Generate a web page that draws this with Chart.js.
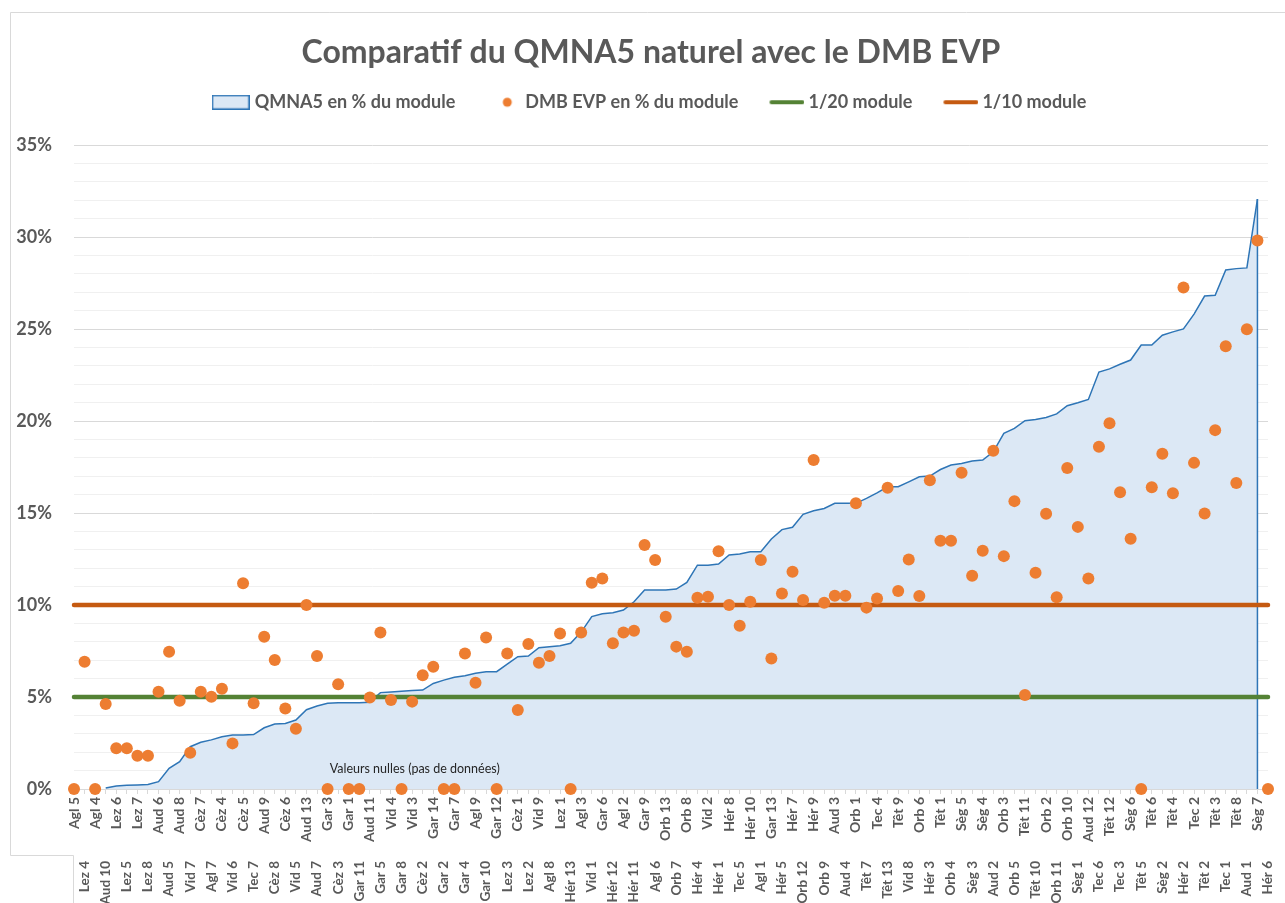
<!DOCTYPE html>
<html>
<head>
<meta charset="utf-8">
<script src="https://cdn.jsdelivr.net/npm/chart.js"></script>
<style>
  html, body { margin: 0; padding: 0; background: #fff; }
  canvas { display: block; }
</style>
</head>
<body>
<canvas id="chart" width="1285" height="903"></canvas>
<script>
// stations, sorted by QMNA5 (module %)
const categories = [
  'Agl 5','Lez 4','Agl 4','Aud 10','Lez 6','Lez 5','Lez 7','Lez 8','Aud 6','Aud 5',
  'Aud 8','Vid 7','Cèz 7','Agl 7','Cèz 4','Vid 6','Cèz 5','Tec 7','Aud 9','Cèz 8',
  'Cèz 6','Vid 5','Aud 13','Aud 7','Gar 3','Cèz 3','Gar 1','Gar 11','Aud 11','Gar 5',
  'Vid 4','Gar 8','Vid 3','Cèz 2','Gar 14','Gar 2','Gar 7','Gar 4','Agl 9','Gar 10',
  'Gar 12','Lez 3','Cèz 1','Lez 2','Vid 9','Agl 8','Lez 1','Hér 13','Agl 3','Vid 1',
  'Gar 6','Hér 12','Agl 2','Hér 11','Gar 9','Agl 6','Orb 13','Orb 7','Orb 8','Hér 4',
  'Vid 2','Hér 1','Hér 8','Tec 5','Hér 10','Agl 1','Gar 13','Hér 5','Hér 7','Orb 12',
  'Hér 9','Orb 9','Aud 3','Aud 4','Orb 1','Têt 7','Tec 4','Têt 13','Têt 9','Vid 8',
  'Orb 6','Hér 3','Têt 1','Orb 4','Sèg 5','Sèg 3','Sèg 4','Aud 2','Orb 3','Orb 5',
  'Têt 11','Têt 10','Orb 2','Orb 11','Orb 10','Sèg 1','Aud 12','Tec 6','Têt 12','Tec 3',
  'Sèg 6','Têt 5','Têt 6','Sèg 2','Têt 4','Hér 2','Tec 2','Têt 2','Têt 3','Tec 1',
  'Têt 8','Aud 1','Sèg 7','Hér 6'
];

// QMNA5 naturel en % du module
const qmna5 = [
  null, null, null, 0.05, 0.16, 0.2, 0.22, 0.24, 0.4, 1.12,
  1.49, 2.3, 2.54, 2.67, 2.84, 2.93, 2.94, 2.96, 3.33, 3.53,
  3.56, 3.75, 4.31, 4.51, 4.66, 4.69, 4.69, 4.69, 4.72, 5.24,
  5.27, 5.31, 5.35, 5.38, 5.74, 5.92, 6.07, 6.16, 6.29, 6.38,
  6.38, 6.79, 7.19, 7.23, 7.68, 7.73, 7.79, 7.92, 8.53, 9.37,
  9.53, 9.58, 9.73, 10.18, 10.82, 10.82, 10.82, 10.87, 11.23, 12.17,
  12.17, 12.23, 12.72, 12.77, 12.9, 12.9, 13.59, 14.1, 14.23, 14.93,
  15.13, 15.25, 15.53, 15.53, 15.53, 15.8, 16.1, 16.43, 16.43, 16.7,
  16.97, 17.01, 17.37, 17.61, 17.7, 17.83, 17.88, 18.33, 19.33, 19.6,
  20.02, 20.09, 20.2, 20.39, 20.84, 21.0, 21.18, 22.67, 22.84, 23.09,
  23.32, 24.14, 24.14, 24.67, 24.85, 25.01, 25.82, 26.8, 26.84, 28.22,
  28.29, 28.33, 32.07, null
];

// DMB EVP en % du module (0 = pas de données)
const dmbEvp = [
  0, 6.92, 0, 4.62, 2.21, 2.21, 1.81, 1.81, 5.29, 7.46,
  4.8, 1.97, 5.29, 5.02, 5.45, 2.48, 11.18, 4.66, 8.28, 7.01,
  4.38, 3.28, 10.0, 7.23, 0, 5.69, 0, 0, 4.98, 8.51,
  4.84, 0, 4.75, 6.18, 6.65, 0, 0, 7.37, 5.78, 8.24,
  0, 7.37, 4.29, 7.88, 6.86, 7.23, 8.46, 0, 8.51, 11.21,
  11.45, 7.92, 8.51, 8.6, 13.26, 12.45, 9.37, 7.74, 7.46, 10.4,
  10.45, 12.93, 10.0, 8.88, 10.18, 12.45, 7.1, 10.63, 11.81, 10.27,
  17.88, 10.13, 10.51, 10.51, 15.53, 9.86, 10.36, 16.38, 10.76, 12.48,
  10.49, 16.79, 13.5, 13.5, 17.19, 11.59, 12.95, 18.39, 12.66, 15.65,
  5.11, 11.75, 14.96, 10.42, 17.45, 14.25, 11.45, 18.6, 19.88, 16.13,
  13.6, 0, 16.4, 18.23, 16.08, 27.26, 17.73, 14.98, 19.51, 24.07,
  16.63, 24.99, 29.82, 0
];

// reference thresholds (% du module)
const seuil20 = 5;
const seuil10 = 10;

const yMax = 35;
const yLabelStep = 5;   // labelled ticks, minor grid every 1%

const noteText = 'Valeurs nulles (pas de données)';
const noteAt = { x: 24.2, y: 1.1 };

const grey = '#595959';
const blue = '#2e75b6', blueFill = '#dce8f5';
const dotColor = '#ed7d31', green = '#548235', rust = '#c55a11';
const fontFamily = 'Lato, "Open Sans", sans-serif';

Chart.defaults.font.family = fontFamily;

// little canvases used as legend symbols
function symbol(w, h, draw) {
  const cv = document.createElement('canvas');
  cv.width = w; cv.height = h;
  draw(cv.getContext('2d'));
  return cv;
}
const symArea = symbol(38, 15, g => {
  g.fillStyle = blueFill; g.fillRect(1, 1, 36, 13);
  g.strokeStyle = blue; g.lineWidth = 1.5; g.strokeRect(0.75, 0.75, 36.5, 13.5);
});
const symDot = symbol(30, 12, g => {
  g.fillStyle = dotColor; g.beginPath(); g.arc(21, 6, 4.5, 0, Math.PI * 2); g.fill();
});
const symLine = col => symbol(40, 6, g => {
  g.strokeStyle = col; g.lineWidth = 4; g.lineCap = 'round';
  g.beginPath(); g.moveTo(7, 3); g.lineTo(38, 3); g.stroke();
});
const legendSymbols = [symArea, symDot, symLine(green), symLine(rust)];

const lastQ = qmna5.reduce((acc, v, i) => (v !== null ? i : acc), -1);

const decor = {
  id: 'decor',
  beforeDraw(chart) {
    const c = chart.ctx;
    c.save();
    c.fillStyle = '#fff';
    c.fillRect(0, 0, chart.width, chart.height);
    c.strokeStyle = '#d9d9d9';
    c.lineWidth = 1;
    c.beginPath();
    c.moveTo(chart.width, 12.5);
    c.lineTo(10.5, 12.5);
    c.lineTo(10.5, 855.5);
    c.lineTo(73.5, 855.5);
    c.lineTo(73.5, chart.height);
    c.stroke();
    c.restore();
  },
  afterDatasetDraw(chart, args) {
    if (args.index !== 0) return;
    // Excel closes the area with a vertical drop on the last value
    const pt = args.meta.data[lastQ];
    const y0 = chart.scales.y.getPixelForValue(0);
    const c = chart.ctx;
    c.save();
    c.strokeStyle = blue;
    c.lineWidth = 1.5;
    c.beginPath();
    c.moveTo(pt.x, pt.y);
    c.lineTo(pt.x, y0);
    c.stroke();
    c.restore();
  },
  afterDatasetsDraw(chart) {
    const c = chart.ctx;
    c.save();
    c.font = '12.5px ' + fontFamily;
    c.fillStyle = '#262626';
    c.textAlign = 'left';
    c.textBaseline = 'middle';
    c.fillText(noteText, chart.scales.x.getPixelForValue(noteAt.x), chart.scales.y.getPixelForValue(noteAt.y));
    c.restore();
  },
  afterDraw(chart) {
    // y labels, right aligned left of the plot (drawn here so they are not clipped to the narrow axis box)
    const ys = chart.scales.y;
    const c = chart.ctx;
    c.save();
    c.font = 'bold 18px ' + fontFamily;
    c.fillStyle = grey;
    c.textAlign = 'right';
    c.textBaseline = 'middle';
    ys.ticks.forEach(t => {
      if (t.value % yLabelStep === 0) c.fillText(t.value + '%', ys.right - 22, ys.getPixelForValue(t.value));
    });
    c.restore();
  }
};

const lastCat = categories[categories.length - 1];
const noSidePadding = s => { s.paddingLeft = 0; s.paddingRight = 0; };

new Chart(document.getElementById('chart'), {
  type: 'line',
  data: {
    labels: categories,
    datasets: [
      {
        label: 'QMNA5 en % du module',
        data: qmna5,
        borderColor: blue,
        backgroundColor: blueFill,
        borderWidth: 1.5,
        fill: 'origin',
        pointRadius: 0,
        tension: 0,
        order: 3
      },
      {
        label: 'DMB EVP en % du module',
        data: dmbEvp,
        showLine: false,
        pointRadius: 6,
        pointHoverRadius: 6,
        pointBorderWidth: 0,
        pointBackgroundColor: dotColor,
        pointBorderColor: dotColor,
        backgroundColor: dotColor,
        clip: false,
        order: 0
      },
      {
        label: '1/20 module',
        data: [{ x: categories[0], y: seuil20 }, { x: lastCat, y: seuil20 }],
        borderColor: green,
        borderWidth: 4.5,
        borderCapStyle: 'round',
        pointRadius: 0,
        clip: false,
        order: 2
      },
      {
        label: '1/10 module',
        data: [{ x: categories[0], y: seuil10 }, { x: lastCat, y: seuil10 }],
        borderColor: rust,
        borderWidth: 4.5,
        borderCapStyle: 'round',
        pointRadius: 0,
        clip: false,
        order: 1
      }
    ]
  },
  options: {
    responsive: false,
    animation: false,
    events: [],
    layout: { padding: { left: 34, right: 17, top: 0, bottom: 0 } },
    plugins: {
      title: {
        display: true,
        text: 'Comparatif du QMNA5 naturel avec le DMB EVP',
        color: grey,
        font: { size: 32, weight: 'bold', lineHeight: 0.6 },
        padding: { top: 43, bottom: 0 }
      },
      // spacer between legend and plot area
      subtitle: {
        display: true,
        text: '',
        weight: 500,
        font: { size: 10, lineHeight: 1 },
        padding: { top: 0, bottom: 14 }
      },
      legend: {
        position: 'top',
        labels: {
          usePointStyle: true,
          pointStyleWidth: 30,
          boxHeight: 18,
          padding: 31,
          color: grey,
          font: { size: 18, weight: 'bold' },
          generateLabels: chart => chart.data.datasets.map((ds, i) => ({
            text: ds.label,
            fillStyle: 'transparent',
            strokeStyle: 'transparent',
            lineWidth: 0,
            pointStyle: legendSymbols[i],
            hidden: false,
            datasetIndex: i,
            fontColor: grey
          }))
        }
      },
      tooltip: { enabled: false }
    },
    scales: {
      x: {
        type: 'category',
        weight: 0,
        afterFit: s => { s.height = 62; noSidePadding(s); },
        border: { display: true, color: '#d9d9d9' },
        grid: { drawOnChartArea: false, drawTicks: true, tickLength: 5, color: '#d9d9d9' },
        ticks: {
          autoSkip: false, maxRotation: 90, minRotation: 90, padding: 3,
          color: grey, font: { size: 14, weight: 'bold' },
          callback: (v, i) => (i % 2 === 0 ? categories[i] : '')
        }
      },
      x2: {
        type: 'category',
        position: 'bottom',
        weight: 1,
        afterFit: s => { s.height = 52; noSidePadding(s); },
        border: { display: false },
        grid: { display: false },
        ticks: {
          autoSkip: false, maxRotation: 90, minRotation: 90, padding: 2,
          color: grey, font: { size: 13.5, weight: 'bold' },
          callback: (v, i) => (i % 2 === 1 ? categories[i] : '')
        }
      },
      y: {
        min: 0,
        max: yMax,
        afterFit: s => { s.width = 40; },
        border: { display: false },
        grid: {
          drawTicks: false,
          color: c => (c.tick.value % yLabelStep === 0 ? '#d9d9d9' : '#f0f0f0')
        },
        ticks: { stepSize: 1, autoSkip: false, display: false }
      }
    }
  },
  plugins: [decor]
});
</script>
</body>
</html>
